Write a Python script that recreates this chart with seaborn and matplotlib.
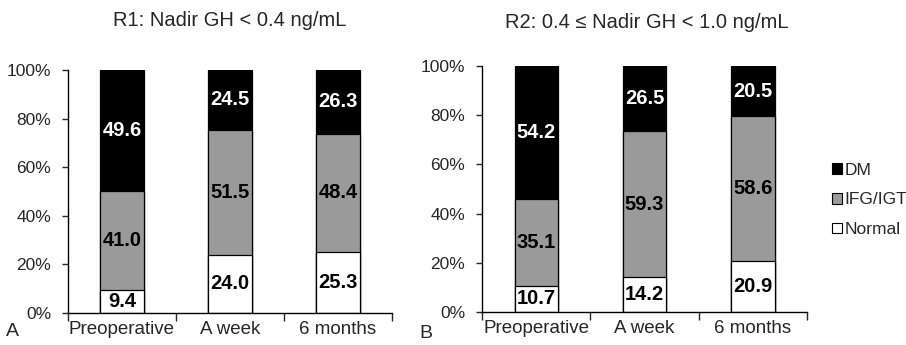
import numpy as np
import pandas as pd
import matplotlib.pyplot as plt
import seaborn as sns
from matplotlib.patches import Patch

# %%
# Data (percent of patients in each glucose status group)
timepoints = ['Preoperative', 'A week', '6 months']
groups = ['DM', 'IFG/IGT', 'Normal']
colors = {'DM': '#000000', 'IFG/IGT': '#9a9a9a', 'Normal': '#ffffff'}

r1_normal = [9.4, 24.0, 25.3]
r1_ifg = [41.0, 51.5, 48.4]
r1_dm = [49.6, 24.5, 26.3]

r2_normal = [10.7, 14.2, 20.9]
r2_ifg = [35.1, 59.3, 58.6]
r2_dm = [54.2, 26.5, 20.5]

titles = ['R1: Nadir GH < 0.4 ng/mL', 'R2: 0.4 \u2264 Nadir GH < 1.0 ng/mL']
panel_letters = ['A', 'B']

# %%
sns.set_style('white')
plt.rcParams['font.family'] = ['Liberation Sans', 'DejaVu Sans']

fig = plt.figure(figsize=(9.06, 3.45), dpi=100)
ax1 = fig.add_axes([68 / 906, 32 / 345, 324 / 906, 243 / 345])
ax2 = fig.add_axes([482 / 906, 33 / 345, 325 / 906, 246 / 345])


def stacked_panel(ax, normal, ifg, dm):
    df = pd.DataFrame({'time': timepoints, 'Normal': normal, 'IFG/IGT': ifg, 'DM': dm})
    df['top_ifg'] = df['Normal'] + df['IFG/IGT']
    df['top_dm'] = df['top_ifg'] + df['DM']
    # draw cumulative bars from tallest to shortest so they look stacked
    for col, grp in [('top_dm', 'DM'), ('top_ifg', 'IFG/IGT'), ('Normal', 'Normal')]:
        sns.barplot(data=df, x='time', y=col, color=colors[grp], width=0.4,
                    edgecolor='black', linewidth=0.9, saturation=1, ax=ax)
    # segment labels
    for i in range(len(df)):
        segs = [(0, df['Normal'][i], 'Normal'),
                (df['Normal'][i], df['top_ifg'][i], 'IFG/IGT'),
                (df['top_ifg'][i], df['top_dm'][i], 'DM')]
        for lo, hi, grp in segs:
            txt_col = 'white' if grp == 'DM' else 'black'
            ax.text(i, (lo + hi) / 2, f'{hi - lo:.1f}', ha='center', va='center',
                    fontsize=14.5, fontweight='bold', color=txt_col)
    ax.set_xlim(-0.5, 2.5)
    ax.set_ylim(0, 100)
    ax.set_yticks([0, 20, 40, 60, 80, 100])
    ax.set_yticklabels([f'{v}%' for v in [0, 20, 40, 60, 80, 100]], fontsize=12.5)
    ax.set_xticks([0, 1, 2])
    ax.set_xticklabels(timepoints, fontsize=13.5)
    ax.set_xticks([-0.5, 0.5, 1.5, 2.5], minor=True)
    ax.tick_params(axis='x', which='major', length=0, pad=6)
    ax.tick_params(axis='x', which='minor', length=6, width=1, direction='out', bottom=True)
    ax.tick_params(axis='y', length=4, width=1, direction='out', left=True, pad=8)
    ax.set_xlabel('')
    ax.set_ylabel('')
    sns.despine(ax=ax)
    for sp in ['left', 'bottom']:
        ax.spines[sp].set_color('black')
        ax.spines[sp].set_linewidth(1)


stacked_panel(ax1, r1_normal, r1_ifg, r1_dm)
stacked_panel(ax2, r2_normal, r2_ifg, r2_dm)

fig.text(230 / 906, 1 - 20 / 345, titles[0], ha='center', va='center', fontsize=14.5)
fig.text(647 / 906, 1 - 22 / 345, titles[1], ha='center', va='center', fontsize=14.5)
fig.text(12 / 906, 1 - 332 / 345, panel_letters[0], ha='center', va='center', fontsize=14)
fig.text(426 / 906, 1 - 334 / 345, panel_letters[1], ha='center', va='center', fontsize=14)

handles = [Patch(facecolor=colors[g], edgecolor='black', linewidth=0.8, label=g) for g in groups]
fig.legend(handles=handles, loc='center left', bbox_to_anchor=(832 / 906, 1 - 200 / 345),
           frameon=False, fontsize=12.5, handlelength=0.55, handleheight=0.55,
           handletextpad=0.15, labelspacing=0.85, borderpad=0, borderaxespad=0)

fig.savefig('out.png', dpi=100)
